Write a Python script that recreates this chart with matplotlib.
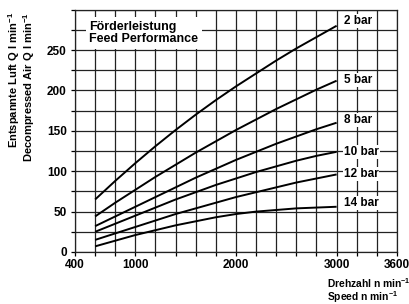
import numpy as np
import matplotlib
matplotlib.use("Agg")
import matplotlib.pyplot as plt

plt.rcParams['font.family'] = ['Liberation Sans', 'DejaVu Sans']
plt.rcParams['font.weight'] = 'bold'
plt.rcParams['mathtext.fontset'] = 'custom'
plt.rcParams['mathtext.rm'] = 'Liberation Sans:bold'
plt.rcParams['mathtext.bf'] = 'Liberation Sans:bold'
plt.rcParams['mathtext.it'] = 'Liberation Sans:bold'

# Data
speed = [600, 800, 1000, 1200, 1400, 1600, 1800, 2000, 2200, 2400, 2600, 2800, 3000]
q_2bar = [65, 88, 110, 131, 151, 170, 188, 205, 221, 237, 252, 266, 280]
q_5bar = [44, 61, 77, 93, 108, 123, 137, 151, 164, 177, 189, 201, 212]
q_8bar = [32, 44, 56, 68, 80, 92, 103, 114, 124, 134, 143, 152, 160]
q_10bar = [25, 35, 45, 55, 65, 74, 83, 91, 99, 106, 113, 119, 124]
q_12bar = [15, 23, 31, 39, 47, 54, 61, 68, 74, 80, 86, 91, 96]
q_14bar = [7, 14, 21, 27, 33, 38, 43, 47, 50, 52, 54, 55, 56]
series_labels = ['2 bar', '5 bar', '8 bar', '10 bar', '12 bar', '14 bar']
label_y = [286, 213, 163, 124, 97, 61]
xtick_labels = {400: '400', 1000: '1000', 2000: '2000', 3000: '3000', 3600: '3600'}
ytick_labels = {0: '0', 50: '50', 100: '100', 150: '150', 200: '200', 250: '250'}

fig = plt.figure(figsize=(4.10, 3.04), dpi=100)
ax = fig.add_axes([75/410, 1-252/304, 322/410, (252-9.6)/304])
ax.set_xlim(400, 3600)
ax.set_ylim(0, 300)

xt = np.arange(400, 3601, 200)
yt = np.arange(0, 301, 25)
ax.set_xticks(xt)
ax.set_xticklabels([xtick_labels.get(int(v), '') for v in xt])
ax.set_yticks(yt)
ax.set_yticklabels([ytick_labels.get(int(v), '') for v in yt])
ax.grid(True, color='#222222', lw=0.9)
ax.set_axisbelow(True)
ax.tick_params(axis='both', length=3, width=0.9, labelsize=8.5, pad=2, colors='black')
ax.tick_params(axis='y', pad=3)
for t in ax.get_xticklabels() + ax.get_yticklabels():
    t.set_fontweight('bold')
for s in ax.spines.values():
    s.set_linewidth(0.9)
    s.set_color('#222222')

all_q = [q_2bar, q_5bar, q_8bar, q_10bar, q_12bar, q_14bar]
for q, lab, ly in zip(all_q, series_labels, label_y):
    ax.plot(speed, q, color='black', lw=1.4, solid_capstyle='butt', zorder=3)
    ax.text(3070, ly, lab, ha='left', va='center', fontsize=8.5, fontweight='bold',
            bbox=dict(facecolor='white', edgecolor='none', pad=0.8), zorder=4)

ax.text(540, 286, 'Förderleistung\nFeed Performance', ha='left', va='top',
        fontsize=9, fontweight='bold', linespacing=1.05,
        bbox=dict(facecolor='white', edgecolor='none', pad=2.5), zorder=4)

fig.text(14/410, 1-12/304, r'Entspannte Luft Q l min$^{-1}$', rotation=90,
         ha='center', va='top', fontsize=8, fontweight='bold')
fig.text(29/410, 1-12/304, r'Decompressed Air Q l min$^{-1}$', rotation=90,
         ha='center', va='top', fontsize=8, fontweight='bold')
fig.text(327/410, 1-283/304, r'Drehzahl n min$^{-1}$', ha='left', va='center',
         fontsize=7.4, fontweight='bold')
fig.text(327/410, 1-297/304, r'Speed n min$^{-1}$', ha='left', va='center',
         fontsize=7.4, fontweight='bold')

fig.savefig('out.png', dpi=100, facecolor='white')
